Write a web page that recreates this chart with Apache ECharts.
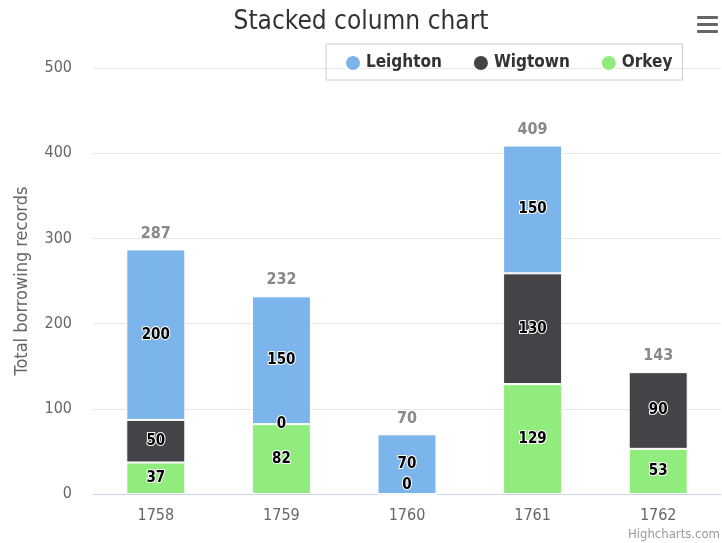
<!DOCTYPE html>
<html><head><meta charset="utf-8">
<script src="https://cdn.jsdelivr.net/npm/echarts@6/dist/echarts.min.js"></script>
<style>html,body{margin:0;padding:0;background:#fff}#c{width:722px;height:543px}</style>
</head><body><div id="c"></div>
<script>
var categories = ['1758', '1759', '1760', '1761', '1762'];
var leighton = [200, 150, 70, 150, null];
var wigtown = [50, 0, null, 130, 90];
var orkey = [37, 82, 0, 129, 53];
var yTicks = [0, 100, 200, 300, 400, 500];

var FONT = '"Liberation Sans Narrow", "DejaVu Sans Condensed", sans-serif';
var totals = categories.map(function (c, i) {
  return (leighton[i] || 0) + (wigtown[i] || 0) + (orkey[i] || 0);
});
var dl = {
  show: true, position: 'inside', color: '#000', fontWeight: 'bold', fontSize: 15,
  fontFamily: FONT, textBorderColor: '#fff', textBorderWidth: 2,
  formatter: function (p) { return p.value == null ? '' : p.value; }
};
function barSeries(name, data, color, bottom) {
  return {
    name: name, type: 'bar', stack: 'a', barWidth: 59,
    data: data.map(function (v) {
      return (bottom && v === 0) ? { value: 0, label: { offset: [0, -9] } } : v;
    }),
    itemStyle: { color: color, borderColor: '#fff', borderWidth: 1 },
    label: dl
  };
}
var chart = echarts.init(document.getElementById('c'));
chart.setOption({
  animation: false,
  title: {
    text: 'Stacked column chart', left: 'center', top: 4,
    textStyle: { fontFamily: FONT, fontSize: 26, fontWeight: 'normal', color: '#333' }
  },
  legend: {
    data: ['Leighton', 'Wigtown', 'Orkey'], left: 326, top: 44,
    icon: 'circle', itemWidth: 16, itemHeight: 16, itemGap: 30,
    borderColor: '#ccc', borderWidth: 1, padding: [10, 10, 8, 18],
    textStyle: { fontFamily: FONT, fontSize: 17, fontWeight: 'bold', color: '#333' }
  },
  grid: { left: 93, right: 1, top: 68, bottom: 49 },
  xAxis: {
    type: 'category', data: categories,
    axisLine: { lineStyle: { color: '#ccd6eb' } }, axisTick: { show: false },
    axisLabel: { color: '#666', fontSize: 16, fontFamily: FONT, margin: 14 }
  },
  yAxis: {
    type: 'value', min: yTicks[0], max: yTicks[yTicks.length - 1], interval: 100,
    name: 'Total borrowing records', nameLocation: 'middle', nameGap: 62, nameRotate: 90,
    nameTextStyle: { color: '#666', fontSize: 18, fontFamily: FONT },
    axisLabel: { color: '#666', fontSize: 16, fontFamily: FONT, margin: 21 },
    splitLine: { lineStyle: { color: '#e6e6e6' } }
  },
  series: [
    barSeries('Orkey', orkey, '#90ed7d', true),
    barSeries('Wigtown', wigtown, '#434348'),
    barSeries('Leighton', leighton, '#7cb5ec'),
    {
      name: 'total', type: 'bar', stack: 'a', barWidth: 59,
      data: totals.map(function () { return 0; }),
      itemStyle: { color: 'transparent' }, tooltip: { show: false },
      label: {
        show: true, position: 'top', distance: 8, color: '#888', fontWeight: 'bold',
        fontSize: 16, fontFamily: FONT,
        formatter: function (p) { return totals[p.dataIndex]; }
      }
    }
  ],
  graphic: [
    { type: 'rect', shape: { x: 697, y: 16, width: 21, height: 3, r: 1 }, style: { fill: '#666' } },
    { type: 'rect', shape: { x: 697, y: 23, width: 21, height: 3, r: 1 }, style: { fill: '#666' } },
    { type: 'rect', shape: { x: 697, y: 30, width: 21, height: 3, r: 1 }, style: { fill: '#666' } },
    { type: 'text', right: 2, bottom: 2, style: { text: 'Highcharts.com', fill: '#999', fontSize: 13, fontFamily: FONT } }
  ]
});
</script></body></html>
